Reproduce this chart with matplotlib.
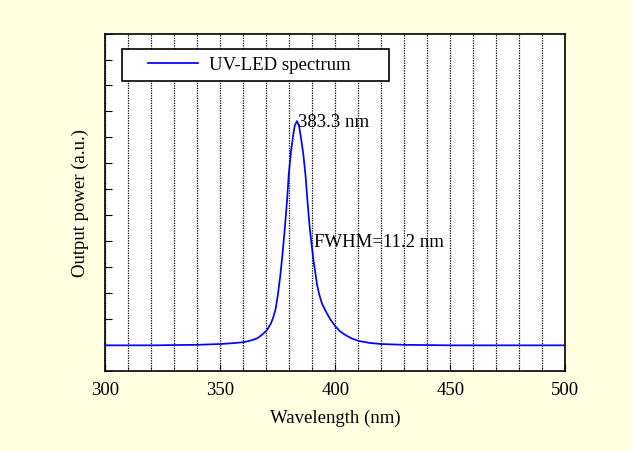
import matplotlib
matplotlib.use('Agg')
from matplotlib import pyplot as plt
from matplotlib.patches import Rectangle

# spectrum (wavelength in nm, power in a.u.)
wavelength = [300, 320, 340, 350, 355, 360, 363, 366, 368, 370.3, 372, 373, 374,
              375, 376, 377, 378, 379, 379.7, 380.5, 381.5, 382.3, 383.3, 384.2,
              385, 386, 387, 388, 388.8, 389.7, 390.6, 392, 393, 394.2, 396,
              397.8, 400, 402, 404.3, 407, 410, 415, 420, 430, 450, 475, 500]
power = [0.0, 0.0, 0.002, 0.005, 0.008, 0.012, 0.018, 0.027, 0.040, 0.059, 0.085, 0.108, 0.14,
         0.195, 0.265, 0.35, 0.45, 0.56, 0.655, 0.73, 0.80, 0.845, 0.863, 0.845,
         0.80, 0.74, 0.655, 0.54, 0.457, 0.385, 0.32, 0.235, 0.195, 0.160, 0.128,
         0.100, 0.073, 0.054, 0.040, 0.027, 0.017, 0.009, 0.005, 0.002, 0.0, 0.0, 0.0]

x_major = [300, 350, 400, 450, 500]
x_minor = list(range(300, 501, 10))
y_ticks = [i / 10 for i in range(-1, 13)]

plt.rcParams['font.family'] = ['Liberation Serif', 'DejaVu Serif']
FS = 13.5

fig = plt.figure(figsize=(6.32, 4.52), dpi=100, facecolor='#FFFFE2')
ax = fig.add_axes([0.1669, 0.1763, 0.7275, 0.7473])
ax.set_facecolor('white')

ax.plot(wavelength, power, color='#0000FF', lw=1.25, label='UV-LED spectrum')

ax.set_xlim(300, 500)
ax.set_ylim(-0.1, 1.2)
ax.set_xticks(x_major)
ax.set_xticks(x_minor, minor=True)
ax.set_yticks(y_ticks)
ax.set_yticklabels([])
ax.tick_params(which='both', direction='in', labelsize=FS, pad=7)
ax.tick_params(axis='y', length=5)
ax.tick_params(axis='x', which='major', length=5)
ax.tick_params(axis='x', which='minor', length=3)
ax.xaxis.grid(True, which='both', color='black', linestyle=(0, (1, 1)), lw=0.9)
for s in ax.spines.values():
    s.set_linewidth(1.2)

ax.set_xlabel('Wavelength (nm)', fontsize=FS, labelpad=8)
ax.set_ylabel('Output power (a.u.)', fontsize=FS, labelpad=5)

ax.text(383.6, 0.86, '383.3 nm', fontsize=FS, ha='left', va='center')
ax.text(390.6, 0.40, 'FWHM=11.2 nm', fontsize=FS, ha='left', va='center')

# legend frame drawn by hand so the padding matches the original box
ax.add_patch(Rectangle((0.0352, 0.8603), 0.582, 0.0938, transform=ax.transAxes,
                       facecolor='white', edgecolor='black', lw=1.2, zorder=4))
leg = ax.legend(loc='center left', bbox_to_anchor=(0.0918, 0.9076), borderaxespad=0,
                borderpad=0, fontsize=FS, handlelength=2.7, handletextpad=0.57,
                frameon=False)
leg.set_zorder(5)

fig.savefig('out.png', dpi=100, facecolor=fig.get_facecolor())
